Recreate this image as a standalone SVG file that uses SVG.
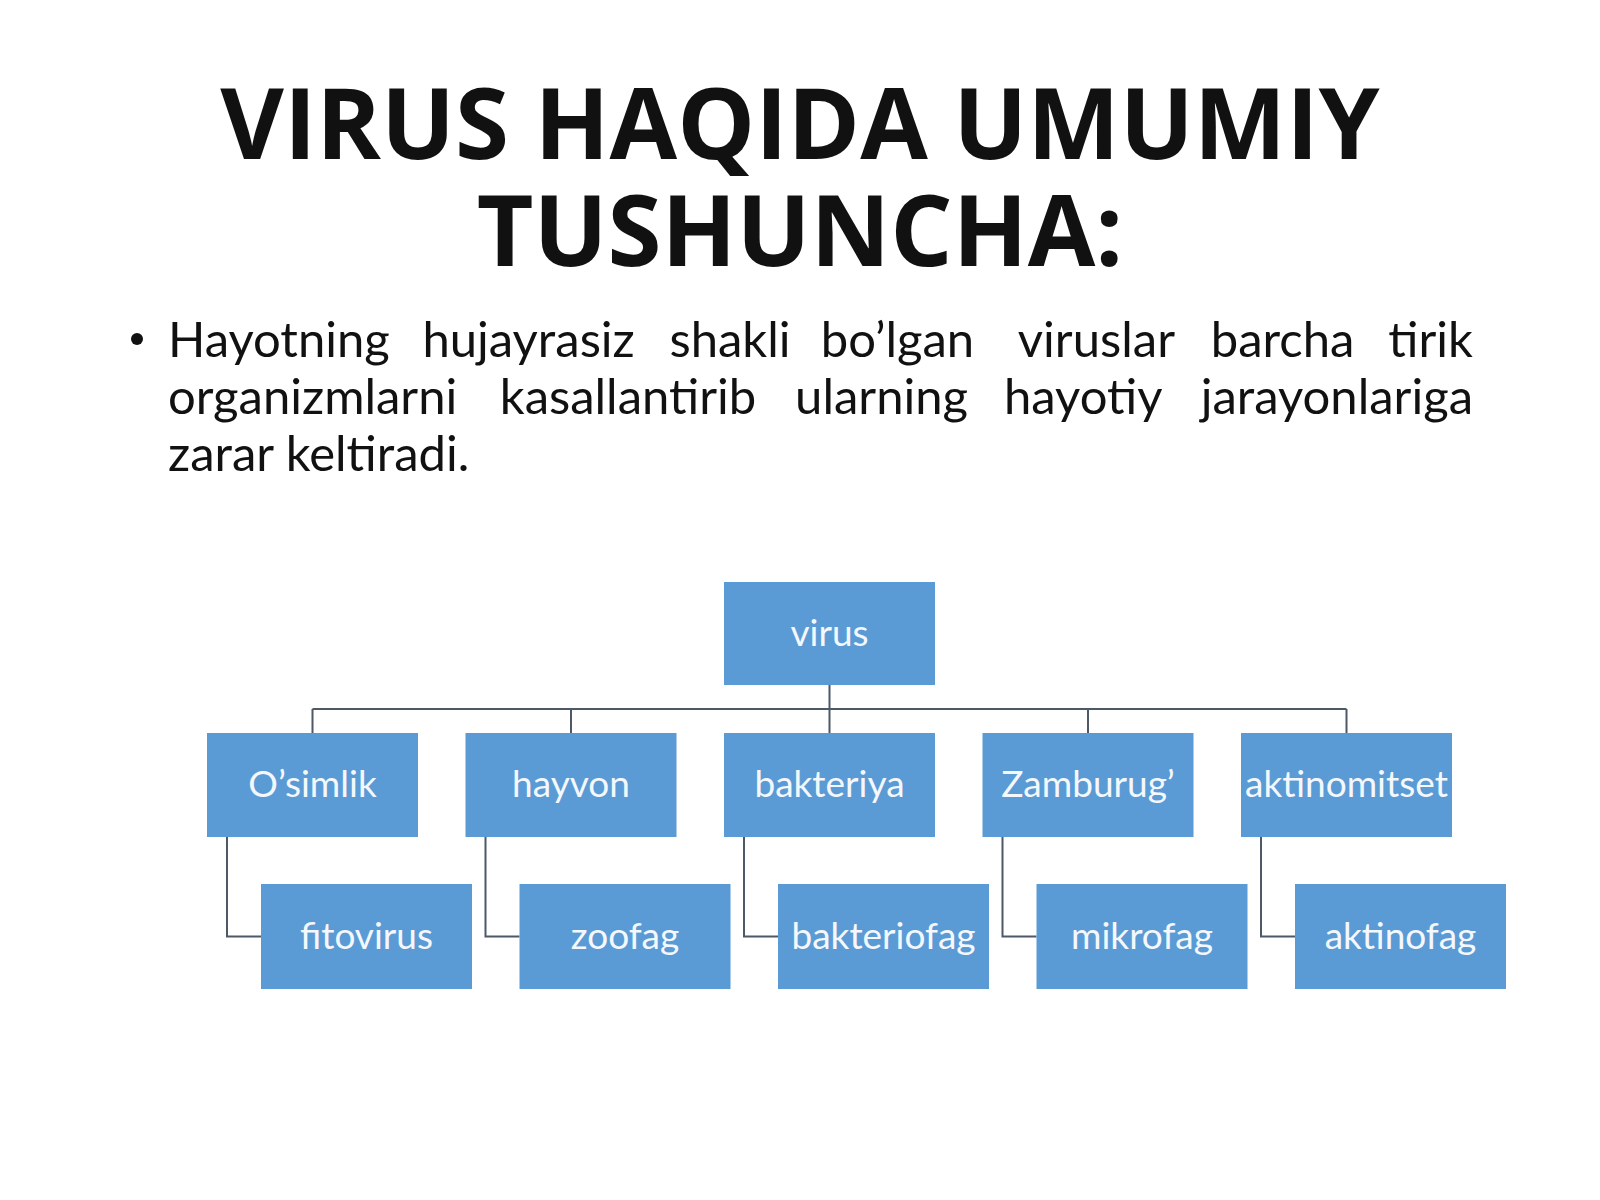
<svg xmlns="http://www.w3.org/2000/svg" width="1600" height="1200" viewBox="0 0 1600 1200">
<style>
.title{font-family:"Open Sans","Noto Sans",sans-serif;font-weight:bold;font-size:98px;fill:#111;text-anchor:middle}
.body{font-family:Lato,"Liberation Sans",sans-serif;font-size:49px;fill:#111}
.m{text-anchor:middle}
.box{fill:#5b9bd5}
.lbl{font-family:Lato,"Liberation Sans",sans-serif;font-size:37px;fill:#f4f8fc;text-anchor:middle}
.con{fill:none;stroke:#4d5966;stroke-width:2}
</style>
<rect width="1600" height="1200" fill="#ffffff"/>
<text class="title" x="800" y="159">VIRUS HAQIDA UMUMIY</text>
<text class="title" x="800" y="266">TUSHUNCHA:</text>
<circle cx="137" cy="339" r="6" fill="#111"/>
<g class="body">
<text x="168" y="357">Hayotning</text>
<text class="m" x="528.6" y="357">hujayrasiz</text>
<text class="m" x="730" y="357">shakli</text>
<text class="m" x="897.5" y="357">bo’lgan</text>
<text class="m" x="1096.4" y="357">viruslar</text>
<text class="m" x="1282.6" y="357">barcha</text>
<text x="1473" y="357" text-anchor="end">tirik</text>
<text x="168" y="414">organizmlarni</text>
<text class="m" x="628" y="414">kasallantirib</text>
<text class="m" x="881.6" y="414">ularning</text>
<text class="m" x="1083.2" y="414">hayotiy</text>
<text x="1473" y="414" text-anchor="end">jarayonlariga</text>
<text x="168" y="471">zarar keltiradi.</text>
</g>
<g id="connectors">
<path class="con" d="M829.5 685 V733 M312.5 709 H1346.5 M312.5 709 V733 M571 709 V733 M1088 709 V733 M1346.5 709 V733"/>
<path class="con" d="M227 837 V936.5 H261 M485.5 837 V936.5 H519.5 M744 837 V936.5 H778 M1002.5 837 V936.5 H1036.5 M1261 837 V936.5 H1295"/>
</g>
<g id="virus"><rect class="box" x="724" y="582" width="211" height="103"/><text class="lbl" x="829.5" y="646">virus</text></g>
<g id="osimlik"><rect class="box" x="207" y="733" width="211" height="104"/><text class="lbl" x="312.5" y="797">O’simlik</text></g>
<g id="hayvon"><rect class="box" x="465.5" y="733" width="211" height="104"/><text class="lbl" x="571" y="797">hayvon</text></g>
<g id="bakteriya"><rect class="box" x="724" y="733" width="211" height="104"/><text class="lbl" x="829.5" y="797">bakteriya</text></g>
<g id="zamburug"><rect class="box" x="982.5" y="733" width="211" height="104"/><text class="lbl" x="1088" y="797">Zamburug’</text></g>
<g id="aktinomitset"><rect class="box" x="1241" y="733" width="211" height="104"/><text class="lbl" x="1346.5" y="797">aktinomitset</text></g>
<g id="fitovirus"><rect class="box" x="261" y="884" width="211" height="105"/><text class="lbl" x="366.5" y="949">fitovirus</text></g>
<g id="zoofag"><rect class="box" x="519.5" y="884" width="211" height="105"/><text class="lbl" x="625" y="949">zoofag</text></g>
<g id="bakteriofag"><rect class="box" x="778" y="884" width="211" height="105"/><text class="lbl" x="883.5" y="949">bakteriofag</text></g>
<g id="mikrofag"><rect class="box" x="1036.5" y="884" width="211" height="105"/><text class="lbl" x="1142" y="949">mikrofag</text></g>
<g id="aktinofag"><rect class="box" x="1295" y="884" width="211" height="105"/><text class="lbl" x="1400.5" y="949">aktinofag</text></g>
</svg>
